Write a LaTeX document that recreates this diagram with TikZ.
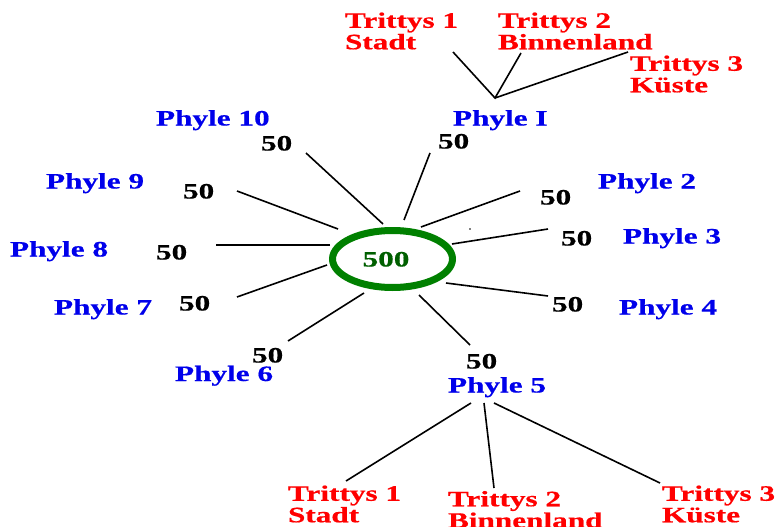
\documentclass[tikz,border=0pt]{standalone}
\usepackage{fontspec}
\newfontfamily\lblfont[FakeStretch=1.42, BoldFeatures={FakeBold=0.6}]{Liberation Serif}
\usetikzlibrary{shapes.geometric}
\definecolor{phyleblue}{RGB}{0,0,235}
\definecolor{tritred}{RGB}{255,0,0}
\definecolor{ringgreen}{RGB}{0,128,0}
\definecolor{sumgreen}{RGB}{0,95,0}
\begin{document}
\begin{tikzpicture}[x=1pt,y=-1pt,
  lbl/.style={font=\lblfont\bfseries\fontsize{22}{21.5}\selectfont, inner sep=0pt, outer sep=0pt},
  phyle/.style={lbl, text=phyleblue, anchor=base west},
  count/.style={lbl, text=black, anchor=base west},
  trittys/.style={lbl, text=tritred, anchor=north west, align=left},
  link/.style={line width=1.6pt, black}]
\useasboundingbox[fill=white] (0,0) rectangle (779,527);

% central assembly
\node[ellipse, draw=ringgreen, line width=7pt, minimum width=120pt, minimum height=57pt, inner sep=0pt] (hub) at (392.5,259) {};
\node[lbl, text=sumgreen, anchor=base] (total) at (386,266.5) {500};

% phyle names
\node[phyle] (ph1)  at (453,125.5) {Phyle I};
\node[phyle] (ph2)  at (598,188.5) {Phyle 2};
\node[phyle] (ph3)  at (623,243.5) {Phyle 3};
\node[phyle] (ph4)  at (619,314.5) {Phyle 4};
\node[phyle] (ph5)  at (448,392.5) {Phyle 5};
\node[phyle] (ph6)  at (175,381) {Phyle 6};
\node[phyle] (ph7)  at (54,314.5)  {Phyle 7};
\node[phyle] (ph8)  at (10,256.5)  {Phyle 8};
\node[phyle] (ph9)  at (46,188.5)  {Phyle 9};
\node[phyle] (ph10) at (156,125.5) {Phyle 10};

% seats per phyle
\node[count] (n1)  at (438,148.5) {50};
\node[count] (n2)  at (540,204.5) {50};
\node[count] (n3)  at (561,245.5) {50};
\node[count] (n4)  at (552,311.5) {50};
\node[count] (n5)  at (466,368.5) {50};
\node[count] (n6)  at (252,362.5) {50};
\node[count] (n7)  at (179,310.5) {50};
\node[count] (n8)  at (156,259.5) {50};
\node[count] (n9)  at (183,198.5) {50};
\node[count] (n10) at (261,150.5) {50};

% spokes from the assembly
\coordinate (s1a)  at (404,220); \coordinate (s1b)  at (430,153);
\coordinate (s2a)  at (421,227); \coordinate (s2b)  at (520,191);
\coordinate (s3a)  at (452,244); \coordinate (s3b)  at (548,229);
\coordinate (s4a)  at (446,283); \coordinate (s4b)  at (548,296);
\coordinate (s5a)  at (419,295); \coordinate (s5b)  at (470,345);
\coordinate (s6a)  at (364,293); \coordinate (s6b)  at (288,341);
\coordinate (s7a)  at (327,265); \coordinate (s7b)  at (237,297);
\coordinate (s8a)  at (330,245); \coordinate (s8b)  at (216,245);
\coordinate (s9a)  at (338,229); \coordinate (s9b)  at (237,191);
\coordinate (s10a) at (383,224); \coordinate (s10b) at (306,153);
\foreach \i in {1,...,10} \draw[link] (s\i a) -- (s\i b);

\fill (470,229) circle (0.9pt);

% trittyes of Phyle I
\node[trittys] (ta1) at (345,12.5) {Trittys 1\\Stadt};
\node[trittys] (ta2) at (498,12.5) {Trittys 2\\Binnenland};
\node[trittys] (ta3) at (630,55.5) {Trittys 3\\Küste};
\coordinate (ja) at (495,98);
\coordinate (ta1e) at (453,52);
\coordinate (ta2e) at (521,53);
\coordinate (ta3e) at (628,52);
\draw[link] (ta1e) -- (ja) -- (ta2e);
\draw[link] (ja) -- (ta3e);

% trittyes of Phyle 5
\node[trittys] (tb1) at (288,485.5) {Trittys 1\\Stadt};
\node[trittys] (tb2) at (448,491) {Trittys 2\\Binnenland};
\node[trittys] (tb3) at (662,485.5) {Trittys 3\\Küste};
\coordinate (jb1) at (471,403); \coordinate (tb1e) at (346,481);
\coordinate (jb2) at (484,403); \coordinate (tb2e) at (494,488);
\coordinate (jb3) at (494,403); \coordinate (tb3e) at (660,483);
\draw[link] (jb1) -- (tb1e);
\draw[link] (jb2) -- (tb2e);
\draw[link] (jb3) -- (tb3e);
\end{tikzpicture}
\end{document}
